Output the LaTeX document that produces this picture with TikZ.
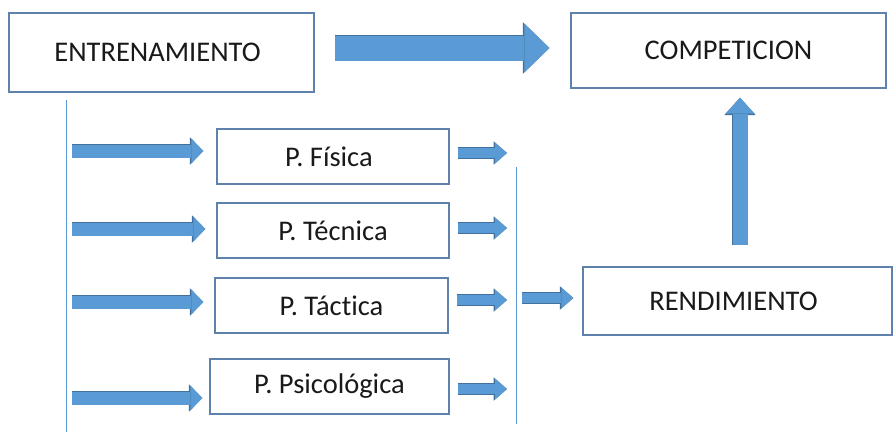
\documentclass[tikz,border=0pt]{standalone}
\usepackage{fontspec}
\setmainfont[Ligatures={NoCommon}]{Carlito}
\usetikzlibrary{arrows.meta,calc}
\definecolor{arrowblue}{HTML}{5B9BD5}
\definecolor{arrowedge}{HTML}{41719C}
\definecolor{boxedge}{HTML}{5E82AC}
\tikzset{
  stage/.style={draw=boxedge,line width=1.3pt,inner sep=0pt,text=black!90,font=\fontsize{28.5}{33}\selectfont},
  feed/.style={draw=arrowblue,line width=1pt},
  bigarrow/.style={draw=arrowblue,line width=25pt,-{Triangle[length=25pt,width=49pt,line width=0pt]},
    preaction={draw=arrowedge,line width=26.4pt,-{Triangle[length=26.5pt,width=51.5pt,line width=0pt]}}},
  midarrow/.style={draw=arrowblue,line width=13pt,-{Triangle[length=12pt,width=25pt,line width=0pt]},
    preaction={draw=arrowedge,line width=14.4pt,-{Triangle[length=13.5pt,width=27.5pt,line width=0pt]}}},
  smallarrow/.style={draw=arrowblue,line width=10pt,-{Triangle[length=12pt,width=21pt,line width=0pt]},
    preaction={draw=arrowedge,line width=11.4pt,-{Triangle[length=13.5pt,width=23.5pt,line width=0pt]}}},
  uparrow/.style={draw=arrowblue,line width=15pt,-{Triangle[length=16pt,width=29pt,line width=0pt]},
    preaction={draw=arrowedge,line width=16.4pt,-{Triangle[length=17.5pt,width=31.5pt,line width=0pt]}}}
}

\begin{document}
\begin{tikzpicture}[x=1pt,y=-1pt]
      \useasboundingbox (0,0) rectangle (893,434);
      \node[stage,minimum width=305pt,minimum height=79pt] (entren) at (161.5,52.5) {ENTRENAMIENTO\hspace*{8pt}};
      \node[stage,minimum width=315pt,minimum height=75pt] (compet) at (728.5,50.5) {COMPETICION};
      \node[stage,minimum width=232pt,minimum height=55pt] (fisica) at (333,156.5) {P. Física\hspace*{8pt}};
      \node[stage,minimum width=232pt,minimum height=55pt] (tecnica) at (333,230.5) {P. Técnica};
      \node[stage,minimum width=233pt,minimum height=55pt] (tactica) at (331.5,305.5) {P. Táctica};
      \node[stage,minimum width=239pt,minimum height=55pt] (psico) at (329.5,386.5) {P. Psicológica};
      \node[stage,minimum width=309pt,minimum height=68pt] (rendim) at (737.5,301) {RENDIMIENTO\hspace*{8pt}};
      \coordinate (trunktop) at (66,100);
      \coordinate (trunkbot) at (66,432);
      \coordinate (jointop) at (516,167);
      \coordinate (joinbot) at (516,424);
      \draw[feed] (trunktop) -- (trunkbot);
      \draw[feed] (jointop) -- (joinbot);
      \draw[bigarrow] ($(entren.east)+(20,-4.5)$) -- ($(compet.west)+(-21,-2.5)$);
      \foreach \b/\dy/\gap in {fisica/-5.5/13,tecnica/-1.5/11,tactica/-3.5/11,psico/11.5/7}
        \draw[midarrow] ($(trunktop |- \b.west)+(6,\dy)$) -- ($(\b.west)+(-\gap,\dy)$);
      \foreach \b/\dy in {fisica/-3.5,tecnica/-2.5,tactica/-5.5,psico/2.5}
        \draw[smallarrow] ($(\b.east)+(8,\dy)$) -- ($(jointop |- \b.east)+(-9,\dy)$);
      \draw[smallarrow] ($(jointop |- rendim.west)+(6,-3)$) -- ($(rendim.west)+(-9,-3)$);
      \draw[uparrow] ($(rendim.north)+(2.5,-21)$) -- ($(rendim.north |- compet.south)+(2.5,9)$);
      %\draw[feed,dashed] (entren.south) -- (trunktop);
    \end{tikzpicture}
\end{document}
